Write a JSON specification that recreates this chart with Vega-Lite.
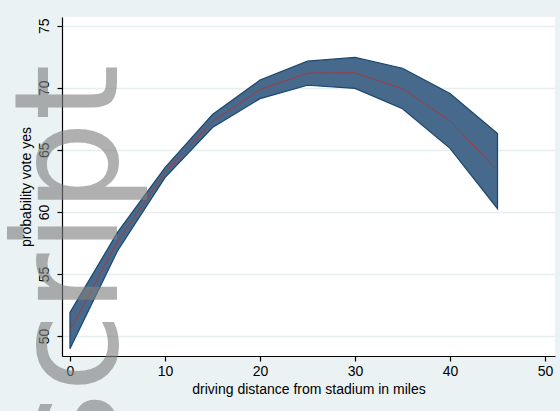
{
  "$schema": "https://vega.github.io/schema/vega-lite/v6.json",
  "width": 493,
  "height": 339,
  "autosize": {"type": "none"},
  "padding": {"left": 62, "top": 17, "right": 5, "bottom": 55},
  "background": "#EAF2F3",
  "view": {"fill": "white", "stroke": null},
  "config": {
    "font": "Liberation Sans",
    "axis": {"labelFont": "Liberation Sans", "titleFont": "Liberation Sans", "labelColor": "black", "titleColor": "black", "titleFontWeight": "normal", "domainColor": "black", "tickColor": "black"}
  },
  "datasets": {
    "band": [
      {"d": 0, "lo": 48.98, "fit": 50.45, "hi": 51.9},
      {"d": 5, "lo": 56.85, "fit": 57.6, "hi": 58.35},
      {"d": 10, "lo": 62.76, "fit": 63.16, "hi": 63.57},
      {"d": 15, "lo": 66.8, "fit": 67.28, "hi": 67.84},
      {"d": 20, "lo": 69.12, "fit": 69.85, "hi": 70.62},
      {"d": 25, "lo": 70.2, "fit": 71.18, "hi": 72.14},
      {"d": 30, "lo": 69.95, "fit": 71.2, "hi": 72.44},
      {"d": 35, "lo": 68.31, "fit": 69.93, "hi": 71.57},
      {"d": 40, "lo": 65.12, "fit": 67.33, "hi": 69.53},
      {"d": 45, "lo": 60.26, "fit": 63.33, "hi": 66.31}
    ],
    "watermark": [{"wm": "script", "wx": 4.95, "wy": 71.9}]
  },
  "layer": [
    {
      "data": {"name": "band"},
      "mark": {"type": "area", "fill": "#476A8C", "stroke": "#1A476F", "strokeWidth": 1.2, "fillOpacity": 1},
      "encoding": {
        "x": {
          "field": "d", "type": "quantitative",
          "scale": {"domain": [-0.84, 51.05], "nice": false, "zero": false},
          "axis": {"values": [0, 10, 20, 30, 40, 50], "title": "driving distance from stadium in miles", "grid": false, "labelFontSize": 14, "titleFontSize": 14, "tickSize": 5, "labelPadding": 3, "titlePadding": 4, "domainWidth": 1.2, "tickWidth": 1.2}
        },
        "y": {
          "field": "lo", "type": "quantitative",
          "scale": {"domain": [48.39, 75.7], "nice": false, "zero": false},
          "axis": {"values": [50, 55, 60, 65, 70, 75], "title": "probability vote yes", "labelAngle": 270, "labelAlign": "center", "labelBaseline": "bottom", "labelFontSize": 14, "titleFontSize": 14, "tickSize": 5, "labelPadding": 6, "titlePadding": 4, "grid": true, "gridColor": "#E6EEEF", "gridWidth": 1.5, "domainWidth": 1.2, "tickWidth": 1.2}
        },
        "y2": {"field": "hi"}
      }
    },
    {
      "data": {"name": "band"},
      "mark": {"type": "line", "color": "#A8383D", "strokeWidth": 1},
      "encoding": {
        "x": {"field": "d", "type": "quantitative"},
        "y": {"field": "fit", "type": "quantitative"}
      }
    },
    {
      "data": {"name": "watermark"},
      "mark": {"type": "text", "angle": 270, "align": "right", "baseline": "alphabetic", "font": "DejaVu Sans", "fontSize": 145, "color": "#808080", "opacity": 0.62, "clip": false},
      "encoding": {
        "text": {"field": "wm", "type": "nominal"},
        "x": {"field": "wx", "type": "quantitative"},
        "y": {"field": "wy", "type": "quantitative"}
      }
    }
  ]
}
